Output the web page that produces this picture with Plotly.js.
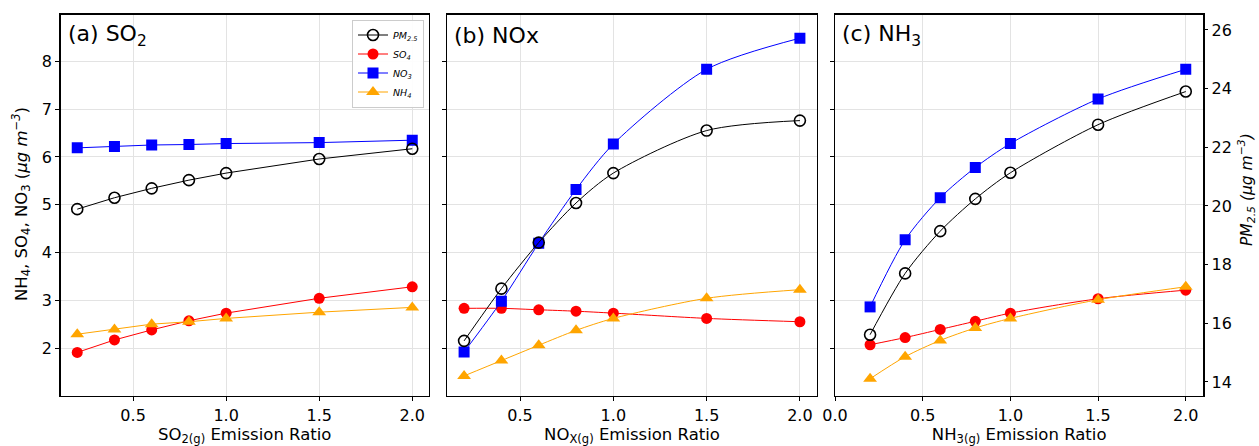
<!DOCTYPE html>
<html>
<head>
<meta charset="utf-8">
<script src="https://cdn.plot.ly/plotly-3.0.1.min.js"></script>
<style>html,body{margin:0;padding:0;background:#fff;}#chart{width:1259px;height:446px;}</style>
</head>
<body>
<div id="chart"></div>
<script>
// ---- data ----
const ratios = [0.2, 0.4, 0.6, 0.8, 1.0, 1.5, 2.0];

// (a) SO2 scenario
const a_pm  = [19.89, 20.28, 20.60, 20.88, 21.12, 21.60, 21.95];
const a_so4 = [1.92, 2.18, 2.39, 2.58, 2.74, 3.05, 3.29];
const a_no3 = [6.19, 6.22, 6.25, 6.26, 6.28, 6.30, 6.35];
const a_nh4 = [2.30, 2.40, 2.51, 2.56, 2.63, 2.76, 2.86];

// (b) NOx scenario
const b_pm  = [15.40, 17.18, 18.75, 20.10, 21.12, 22.57, 22.91];
const b_so4 = [2.84, 2.84, 2.81, 2.78, 2.74, 2.63, 2.56];
const b_no3 = [1.93, 2.99, 4.20, 5.32, 6.27, 7.83, 8.48];
const b_nh4 = [1.43, 1.75, 2.07, 2.38, 2.63, 3.05, 3.23];

// (c) NH3 scenario
const c_pm  = [15.61, 17.70, 19.14, 20.24, 21.13, 22.77, 23.90];
const c_so4 = [2.08, 2.23, 2.40, 2.57, 2.74, 3.04, 3.22];
const c_no3 = [2.87, 4.27, 5.15, 5.78, 6.28, 7.21, 7.83];
const c_nh4 = [1.37, 1.83, 2.17, 2.43, 2.63, 3.02, 3.29];

const panelTitles = ["(a) SO<sub>2</sub>", "(b) NOx", "(c) NH<sub>3</sub>"];
const xTitles = ["SO<sub>2(g)</sub> Emission Ratio", "NO<sub>X(g)</sub> Emission Ratio", "NH<sub>3(g)</sub> Emission Ratio"];
const seriesNames = ["<i>PM<sub>2.5</sub></i>", "<i>SO<sub>4</sub></i>", "<i>NO<sub>3</sub></i>", "<i>NH<sub>4</sub></i>"];
const leftTitle = "NH<sub>4</sub>, SO<sub>4</sub>, NO<sub>3</sub> (<i>μg m<sup>−3</sup></i>)";
const rightTitle = "<i>PM<sub>2.5</sub> (μg m<sup>−3</sup>)</i>";

// ---- styling ----
const FONT = "DejaVu Sans, Liberation Sans, sans-serif";
const W = 1259, H = 446;
const px = v => v / W;
const py = v => 1 - v / H;
const xDomains = [[px(60.5), px(429)], [px(447.3), px(816.7)], [px(835), px(1203.3)]];
const yDomain = [py(396), py(14.7)];
const xRanges = [[0.11, 2.09], [0.11, 2.09], [0.0, 2.1]];
const leftRange = [1.01, 8.97];
const rightRange = [13.52, 26.52];

const panels = [
  {pm: a_pm, so4: a_so4, no3: a_no3, nh4: a_nh4, shape: 'linear'},
  {pm: b_pm, so4: b_so4, no3: b_no3, nh4: b_nh4, shape: 'spline'},
  {pm: c_pm, so4: c_so4, no3: c_no3, nh4: c_nh4, shape: 'spline'}
];

const traces = [];
panels.forEach((p, i) => {
  const xa = i === 0 ? 'x' : 'x' + (i + 1);
  const yl = i === 0 ? 'y' : 'y' + (i + 1);
  const yr = 'y' + (i + 4);
  const show = i === 0;
  const sm = 0.8;
  traces.push({
    x: ratios, y: p.pm, xaxis: xa, yaxis: yr, name: seriesNames[0], showlegend: show,
    mode: 'lines+markers', line: {color: 'black', width: 1, shape: p.shape, smoothing: sm},
    marker: {symbol: 'circle-open', size: 11, color: 'black', line: {width: 1.6, color: 'black'}}
  });
  traces.push({
    x: ratios, y: p.so4, xaxis: xa, yaxis: yl, name: seriesNames[1], showlegend: show,
    mode: 'lines+markers', line: {color: '#ff0000', width: 1, shape: p.shape, smoothing: sm},
    marker: {symbol: 'circle', size: 11, color: '#ff0000'}
  });
  traces.push({
    x: ratios, y: p.no3, xaxis: xa, yaxis: yl, name: seriesNames[2], showlegend: show,
    mode: 'lines+markers', line: {color: '#0000ff', width: 1, shape: p.shape, smoothing: sm},
    marker: {symbol: 'square', size: 11, color: '#0000ff'}
  });
  traces.push({
    x: ratios, y: p.nh4, xaxis: xa, yaxis: yl, name: seriesNames[3], showlegend: show,
    mode: 'lines+markers', line: {color: '#ffa500', width: 1, shape: p.shape, smoothing: sm},
    marker: {symbol: 'triangle-up', size: 12, color: '#ffa500'}
  });
});

const tickFont = {family: FONT, size: 16, color: '#000'};
const titleFont = {family: FONT, size: 16.5, color: '#000'};
const layout = {
  width: W, height: H,
  margin: {l: 0, r: 0, t: 0, b: 0},
  paper_bgcolor: '#fff', plot_bgcolor: '#fff',
  font: {family: FONT, color: '#000'},
  showlegend: true,
  legend: {
    x: px(424), y: py(19.5), xanchor: 'right', yanchor: 'top',
    bgcolor: 'rgba(255,255,255,0.9)', bordercolor: '#cccccc', borderwidth: 1,
    font: {family: FONT, size: 9.5, color: '#000'},
    tracegroupgap: 0, itemwidth: 30
  },
  annotations: []
};

for (let i = 0; i < 3; i++) {
  const xk = i === 0 ? 'xaxis' : 'xaxis' + (i + 1);
  const ylk = i === 0 ? 'yaxis' : 'yaxis' + (i + 1);
  const yrk = 'yaxis' + (i + 4);
  const xa = i === 0 ? 'x' : 'x' + (i + 1);
  const yl = i === 0 ? 'y' : 'y' + (i + 1);
  layout[xk] = {
    domain: xDomains[i], range: xRanges[i], anchor: yl,
    dtick: 0.5, tick0: 0, tickformat: '.1f',
    showline: true, linecolor: '#000', linewidth: 1.3, mirror: true,
    ticks: 'outside', ticklen: 4, tickwidth: 1, tickcolor: '#000',
    showgrid: true, gridcolor: '#e3e3e3', gridwidth: 1, zeroline: false,
    tickfont: tickFont,
    title: {text: xTitles[i], font: titleFont, standoff: 6},
    automargin: false
  };
  layout[ylk] = {
    domain: yDomain, range: leftRange, anchor: xa,
    dtick: 1, tick0: 0,
    showline: true, linecolor: '#000', linewidth: 1.3, mirror: true,
    ticks: 'outside', ticklen: 4, tickwidth: 1, tickcolor: '#000',
    showgrid: true, gridcolor: '#e3e3e3', gridwidth: 1, zeroline: false,
    showticklabels: i === 0,
    tickfont: tickFont,
    automargin: false
  };
  layout[yrk] = {
    domain: yDomain, range: rightRange, anchor: xa, overlaying: yl, side: 'right',
    dtick: 2, tick0: 0,
    showline: false, showgrid: false, zeroline: false,
    ticks: i === 2 ? 'outside' : '', ticklen: 4, tickwidth: 1, tickcolor: '#000',
    showticklabels: i === 2,
    tickfont: tickFont,
    automargin: false
  };
  layout.annotations.push({
    xref: 'paper', yref: 'paper',
    x: xDomains[i][0] + px(5), y: py(35), xanchor: 'left', yanchor: 'middle',
    text: panelTitles[i], showarrow: false,
    font: {family: FONT, size: 22, color: '#000'}
  });
}

// axis titles placed as rotated annotations
layout.annotations.push({
  xref: 'paper', yref: 'paper', x: px(21), y: py(204), xanchor: 'center', yanchor: 'middle',
  text: leftTitle, textangle: -90, showarrow: false, font: titleFont
});
layout.annotations.push({
  xref: 'paper', yref: 'paper', x: px(1246), y: py(190), xanchor: 'center', yanchor: 'middle',
  text: rightTitle, textangle: -90, showarrow: false,
  font: {family: FONT, size: 15.5, color: '#000'}
});

Plotly.newPlot('chart', traces, layout, {displayModeBar: false, staticPlot: true});
</script>
</body>
</html>
